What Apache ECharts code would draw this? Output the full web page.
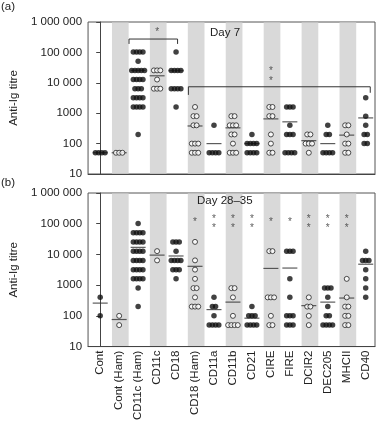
<!DOCTYPE html>
<html>
<head>
<meta charset="utf-8">
<script src="https://cdn.jsdelivr.net/npm/echarts@6/dist/echarts.min.js"></script>
<style>
  html, body { margin: 0; padding: 0; background: #fff; }
  #chart { width: 377px; height: 423px; }
</style>
</head>
<body>
<div id="chart"></div>
<script>
// groups on the x axis
const categories = ['Cont', 'Cont (Ham)', 'CD11c (Ham)', 'CD11c', 'CD18', 'CD18 (Ham)', 'CD11a',
  'CD11b', 'CD21', 'CIRE', 'FIRE', 'DCIR2', 'DEC205', 'MHCII', 'CD40'];
// groups drawn as open circles (these also get the grey column)
const openGroups = [1, 3, 5, 7, 9, 11, 13];

// day 7 titres, one list per group
const day7Titres = [
  [50, 50, 50, 50],
  [50, 50, 50],
  [102400, 102400, 102400, 102400, 51200, 25600, 25600, 25600, 25600, 25600, 12800, 12800, 12800, 12800,
    6400, 6400, 6400, 3200, 3200, 3200, 3200, 1600, 1600, 1600, 1600, 200],
  [25600, 25600, 25600, 12800, 6400, 6400, 6400],
  [102400, 25600, 25600, 25600, 25600, 6400, 6400, 6400, 6400, 1600],
  [1600, 800, 800, 400, 400, 100, 100, 100, 50, 50, 50],
  [400, 50, 50, 50, 50],
  [800, 800, 400, 400, 400, 200, 200, 100, 50, 50, 50],
  [200, 100, 100, 100, 100, 50, 50, 50, 50],
  [1600, 1600, 800, 800, 200, 100, 50, 50],
  [1600, 1600, 1600, 400, 200, 200, 200, 50, 50, 50, 50],
  [200, 200, 100, 100, 100, 50],
  [400, 200, 200, 50, 50, 50, 50],
  [400, 400, 200, 100, 100, 50, 50],
  [3200, 800, 400, 200, 200, 100, 100]
];
// day 7 group medians (horizontal bars)
const day7Medians = [50, 50, 25600, 17000, 25000, 380, 100, 330, 100, 650, 520, 125, 100, 190, 700];

// day 28-35 titres
const day28Titres = [
  [400, 100],
  [100, 50],
  [102400, 51200, 51200, 51200, 51200, 25600, 25600, 25600, 25600, 12800, 12800, 12800, 12800,
    6400, 6400, 6400, 6400, 3200, 3200, 3200, 3200, 1600, 1600, 1600, 1600, 800, 200],
  [12800, 6400],
  [25600, 25600, 25600, 12800, 6400, 6400, 6400, 6400, 3200, 3200, 3200, 1600],
  [25600, 6400, 3200, 1600, 800, 800, 400, 200, 200, 200],
  [400, 200, 200, 100, 50, 50, 50, 50],
  [800, 800, 400, 100, 50, 50, 50, 50],
  [200, 100, 100, 100, 50, 50, 50, 50],
  [12800, 12800, 400, 400, 400, 100, 50, 50],
  [12800, 12800, 12800, 1600, 400, 100, 100, 100, 50, 50, 50],
  [400, 200, 200, 100, 50],
  [800, 800, 800, 400, 200, 100, 100, 50, 50, 50, 50],
  [1600, 400, 200, 200, 100, 100, 50, 50],
  [12800, 6400, 6400, 6400, 3200, 1600, 800, 400]
];
const day28Medians = [260, 76, 17000, 9500, 8900, 4100, 160, 280, 84, 3500, 3600, 215, 280, 380, 4800];

// significance stars [group, titre level]
const day7Stars = [[3, 550000], [9, 28000], [9, 13300]];
const day28Stars = [[5, 126000], [9, 126000], [10, 126000],
  [6, 166000], [6, 85000], [7, 166000], [7, 85000], [8, 166000], [8, 85000],
  [11, 166000], [11, 85000], [12, 166000], [12, 85000], [13, 166000], [13, 85000]];
// comparison brackets on day 7
const day7Brackets = [
  [[1.52, 190000], [1.52, 275000], [4.08, 275000], [4.08, 190000]],
  [[4.65, 4000], [4.65, 7400], [14.24, 7400], [14.24, 4700]]
];

const FONT = 'Liberation Sans, Arial, sans-serif';
const TEXT = '#222';
const LINE = '#444';
const DOT_STEP = 3.2; // px between dots sharing a titre

// spread dots with equal titres side by side
const spread = (lists, open) => {
  const out = [];
  lists.forEach((vals, i) => {
    if (openGroups.includes(i) !== open) return;
    const counts = {};
    vals.forEach(v => { counts[v] = (counts[v] || 0) + 1; });
    const seen = {};
    vals.forEach(v => {
      const k = seen[v] || 0;
      seen[v] = k + 1;
      out.push({ value: [i, v], symbolOffset: [(k - (counts[v] - 1) / 2) * DOT_STEP, 0] });
    });
  });
  return out;
};

const fmtTick = v => {
  if (v < 10000) return String(v);
  return String(v).replace(/\B(?=(\d{3})+(?!\d))/g, ' ');
};

const panelSeries = (g, titres, medians, stars, brackets) => {
  const s = [
    {
      type: 'custom', xAxisIndex: g, yAxisIndex: g, z: 1, silent: true,
      data: openGroups.map(i => [i, 1000]),
      renderItem: (params, api) => {
        const c = api.value(0);
        const a = api.coord([c - 0.44 + 0.06, 1000]);
        const b = api.coord([c + 0.44 + 0.06, 1000]);
        const cs = params.coordSys;
        return {
          type: 'rect',
          shape: { x: a[0], y: cs.y + 0.5, width: b[0] - a[0], height: cs.height - 1 },
          style: { fill: '#d9d9d9' }
        };
      }
    },
    {
      type: 'scatter', xAxisIndex: g, yAxisIndex: g, z: 2, silent: true,
      symbol: 'rect', symbolSize: [15, 1.2],
      itemStyle: { color: '#333' },
      data: medians.map((m, i) => [i, m])
    },
    {
      type: 'scatter', xAxisIndex: g, yAxisIndex: g, z: 3, silent: true,
      symbolSize: 5.5,
      itemStyle: { color: '#111' },
      data: spread(titres, false)
    },
    {
      type: 'scatter', xAxisIndex: g, yAxisIndex: g, z: 4, silent: true,
      symbolSize: 5,
      itemStyle: { color: '#fff', borderColor: '#222', borderWidth: 1 },
      data: spread(titres, true)
    },
    {
      type: 'scatter', xAxisIndex: g, yAxisIndex: g, z: 5, silent: true,
      symbolSize: 1, itemStyle: { color: 'rgba(0,0,0,0)' },
      label: {
        show: true, position: 'inside', formatter: '*', offset: [0, 2],
        fontSize: 10, color: '#333', fontFamily: FONT
      },
      data: stars
    }
  ];
  brackets.forEach(br => {
    s.push({
      type: 'line', xAxisIndex: g, yAxisIndex: g, z: 5, silent: true,
      symbol: 'none', lineStyle: { color: '#333', width: 1 },
      data: br
    });
  });
  return s;
};

const xAxisFor = (g, labels) => ({
  type: 'value', gridIndex: g, min: -0.64, max: 14.49,
  axisLine: { show: true, lineStyle: { color: LINE } },
  axisTick: { show: false },
  splitLine: { show: false },
  axisLabel: labels ? {
    customValues: categories.map((c, i) => i),
    formatter: v => categories[v],
    rotate: 90, margin: 4, fontSize: 11.5, color: TEXT, fontFamily: FONT
  } : { show: false }
});

const yAxisFor = g => ({
  type: 'log', logBase: 10, gridIndex: g, min: 10, max: 1000000,
  axisLine: { show: true, lineStyle: { color: LINE } },
  axisTick: { show: true, length: 4, lineStyle: { color: LINE } },
  minorTick: { show: false },
  splitLine: { show: false },
  axisLabel: { formatter: fmtTick, margin: 6, fontSize: 11.5, color: TEXT, fontFamily: FONT },
  name: 'Anti-Ig titre', nameLocation: 'middle', nameGap: 52,
  nameTextStyle: { fontSize: 11.5, color: TEXT, fontFamily: FONT }
});

const textStyle = { fontSize: 11.5, fill: TEXT, fontFamily: FONT };

const myChart = echarts.init(document.getElementById('chart'));
myChart.setOption({
  animation: false,
  grid: [
    { left: 67, top: 22, width: 308, height: 152, show: true, borderColor: '#555', borderWidth: 1 },
    { left: 67, top: 193, width: 308, height: 154, show: true, borderColor: '#555', borderWidth: 1 }
  ],
  xAxis: [xAxisFor(0, false), xAxisFor(1, true)],
  yAxis: [yAxisFor(0), yAxisFor(1)],
  graphic: [
    { type: 'text', z: 100, left: 1, top: 1, style: { text: '(a)', ...textStyle } },
    { type: 'text', z: 100, left: 1, top: 177, style: { text: '(b)', ...textStyle } },
    { type: 'text', z: 100, left: 210, top: 27, style: { text: 'Day 7', ...textStyle } },
    { type: 'text', z: 100, left: 197, top: 195, style: { text: 'Day 28–35', ...textStyle } }
  ],
  series: [
    ...panelSeries(0, day7Titres, day7Medians, day7Stars, day7Brackets),
    ...panelSeries(1, day28Titres, day28Medians, day28Stars, [])
  ]
});
</script>
</body>
</html>
